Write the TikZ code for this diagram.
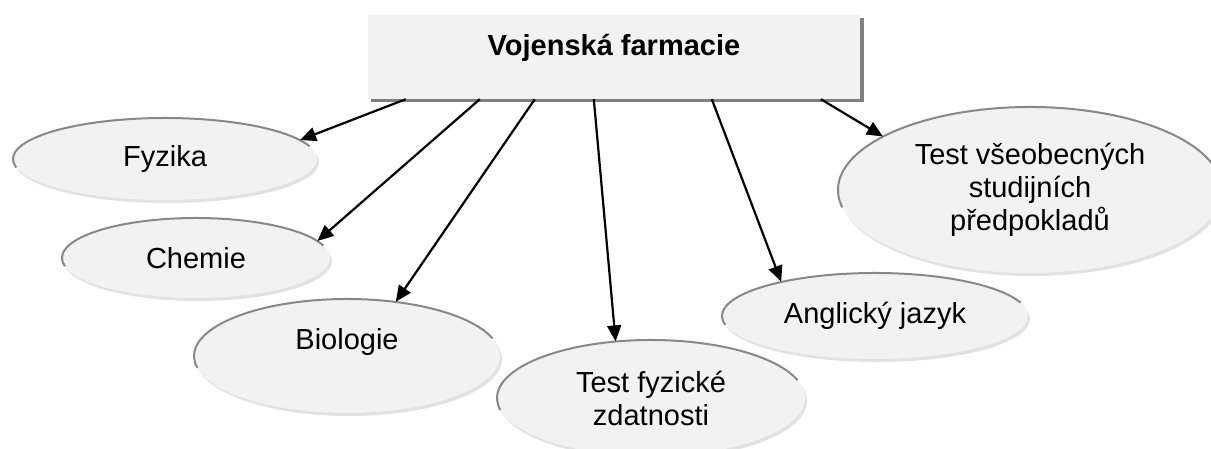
\documentclass[tikz,border=0pt]{standalone}
\usepackage{fontspec}
\setmainfont{Liberation Sans}
\usetikzlibrary{arrows.meta,shapes.geometric}
\definecolor{fillc}{HTML}{F2F2F2}
\definecolor{rimc}{HTML}{888888}
\definecolor{shadc}{HTML}{E2E2E2}
\definecolor{boxshad}{HTML}{808080}
% #1 name, #2 centre x, #3 centre y (from top), #4 rx, #5 ry, #6 options, #7 text
\newcommand\bub[7]{%
  \fill[shadc] (#2+2, 448-#3-3) ellipse [x radius=#4pt, y radius=#5pt];
  \node[bubble, minimum width=2*#4pt, minimum height=2*#5pt, #6] (#1) at (#2, 448-#3) {#7};
  \draw[rim] ([shift={(#1.center)}]18:#4pt and #5pt) arc[start angle=18, end angle=192, x radius=#4pt, y radius=#5pt];
}
\begin{document}
\begin{tikzpicture}[x=1pt, y=1pt,
  bubble/.style={ellipse, fill=fillc, inner sep=0pt, align=center,
    font=\fontsize{29}{33}\selectfont},
  rim/.style={draw=rimc, line width=2pt},
  titlebox/.style={rectangle, fill=fillc, inner sep=0pt,
    font=\fontsize{29}{33}\selectfont\bfseries},
  arr/.style={line width=2.2pt, -{Triangle[length=16pt, width=14pt]}}]
\useasboundingbox (0,0) rectangle (1211,448);
\fill[white] (0,0) rectangle (1211,448);

% title box
\fill[boxshad] (371, 448-102) rectangle (864, 448-18);
\node[titlebox, minimum width=492pt, minimum height=84pt] (vf) at (614, 448-57)
  {\raisebox{9pt}[\height][\depth]{Vojenská farmacie}};

% bubbles
\bub{fyz}{165}{159}{152}{41}{}{Fyzika}
\bub{che}{196}{258}{134}{40}{}{Chemie}
\bub{bio}{347}{356}{153}{57}{}{\raisebox{14pt}[\height][\depth]{Biologie}}
\bub{tfz}{651}{398}{154}{58}{}{Test fyzické\\zdatnosti}
\bub{ang}{875}{316}{153}{43}{}{Anglický jazyk}
\bub{tvs}{1030}{190}{192}{83}{}{Test všeobecných\\studijních\\předpokladů}

% connectors
\draw[arr] ([xshift=38pt]vf.south west) -- (fyz.8);
\draw[arr] ([xshift=112pt]vf.south west) -- (che.8.5);
\draw[arr] ([xshift=167pt]vf.south west) -- (bio.48);
\draw[arr] ([xshift=226pt]vf.south west) -- (tfz.122.7);
\draw[arr] ([xshift=344pt]vf.south west) -- (ang.160);
\draw[arr] ([xshift=453pt]vf.south west) -- (tvs.160);
\end{tikzpicture}
\end{document}
